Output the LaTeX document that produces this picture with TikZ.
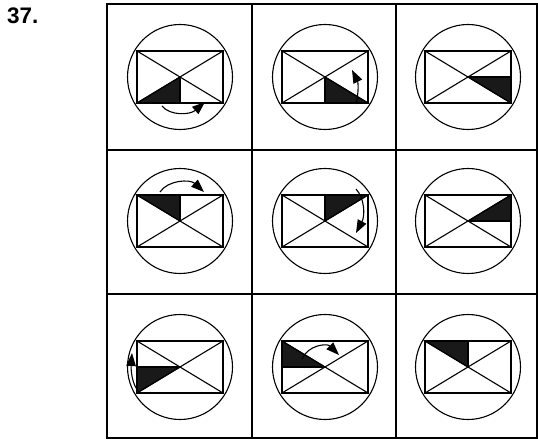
\documentclass[tikz,border=0pt]{standalone}
\usepackage{fontspec}
\setmainfont{Liberation Sans}
\usetikzlibrary{arrows.meta}
\begin{document}
\begin{tikzpicture}[x=1pt,y=-1pt,
  thinline/.style={line width=1.1pt},
  gridline/.style={line width=1.3pt},
  blk/.style={fill=black!90, draw=black, line width=1.1pt, line join=miter},
  rot/.style={line width=1.1pt, -{Triangle[length=13pt,width=9.5pt]}},
  motif/.pic={
    \draw[thinline] (0,0) circle (52.5);
    \draw[thinline] (-43,-26) rectangle (43,26);
    \draw[thinline] (-43,-26) -- (43,26) (-43,26) -- (43,-26);
  }]
\useasboundingbox (0,0) rectangle (538,441);
\node[anchor=base west, inner sep=0pt, font=\fontsize{22.5}{24}\selectfont\bfseries] (num) at (7,24) {37.};
% grid
\draw[gridline] (107,4) rectangle (537,438);
\draw[gridline] (252,4) -- (252,438) (396,4) -- (396,438);
\draw[gridline] (107,150) -- (537,150) (107,294) -- (537,294);
% row 1
\begin{scope}[shift={(180,77)}]
  \fill[blk] (-43,26) -- (0,0) -- (0,26) -- cycle;
  \pic {motif};
  \draw[thinline] (0,0) -- (0,26);
  \draw[rot] (-18,29) .. controls (-10,39) and (10,38) .. (25,25);
\end{scope}
\begin{scope}[shift={(325,77)}]
  \fill[blk] (0,0) -- (0,26) -- (43,26) -- cycle;
  \pic {motif};
  \draw[thinline] (0,0) -- (0,26);
  \draw[rot] (31,27) .. controls (34,15) and (33,5) .. (27,-7);
\end{scope}
\begin{scope}[shift={(468,77)}]
  \fill[blk] (0,0) -- (43,0) -- (43,26) -- cycle;
  \pic {motif};
  \draw[thinline] (0,0) -- (43,0);
\end{scope}
% row 2
\begin{scope}[shift={(180,221)}]
  \fill[blk] (-43,-26) -- (0,-26) -- (0,0) -- cycle;
  \pic {motif};
  \draw[thinline] (0,0) -- (0,-26);
  \draw[rot] (-20,-29) .. controls (-12,-41) and (10,-42) .. (24,-29);
\end{scope}
\begin{scope}[shift={(325,221)}]
  \fill[blk] (0,-26) -- (43,-26) -- (0,0) -- cycle;
  \pic {motif};
  \draw[thinline] (0,0) -- (0,-26);
  \draw[rot] (31,-32) .. controls (40,-22) and (40,-5) .. (31,12);
\end{scope}
\begin{scope}[shift={(468,221)}]
  \fill[blk] (0,0) -- (43,-26) -- (43,0) -- cycle;
  \pic {motif};
  \draw[thinline] (0,0) -- (43,0);
\end{scope}
% row 3
\begin{scope}[shift={(180,367)}]
  \fill[blk] (-43,0) -- (0,0) -- (-43,26) -- cycle;
  \pic {motif};
  \draw[thinline] (0,0) -- (-43,0);
  \draw[rot] (-40,26) .. controls (-49,18) and (-49,0) .. (-48,-14);
\end{scope}
\begin{scope}[shift={(325,367)}]
  \fill[blk] (-43,-26) -- (-43,0) -- (0,0) -- cycle;
  \pic {motif};
  \draw[thinline] (0,0) -- (-43,0);
  \draw[rot] (-23,-8) .. controls (-17,-22) and (2,-24) .. (14,-12);
\end{scope}
\begin{scope}[shift={(468,367)}]
  \fill[blk] (-43,-26) -- (0,-26) -- (0,0) -- cycle;
  \pic {motif};
  \draw[thinline] (0,0) -- (0,-26);
\end{scope}
\end{tikzpicture}
\end{document}
